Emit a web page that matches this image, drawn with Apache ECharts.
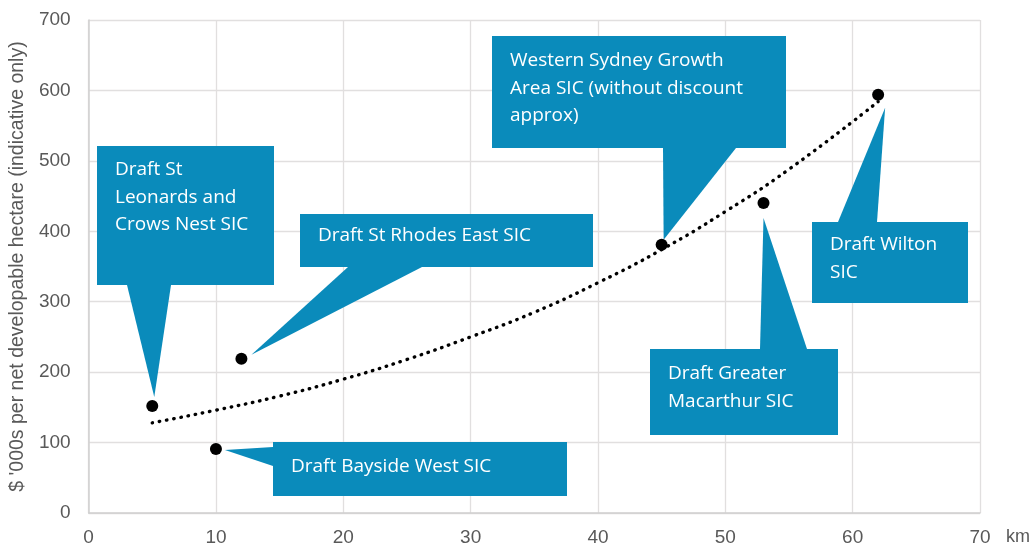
<!DOCTYPE html>
<html>
<head>
<meta charset="utf-8">
<script src="https://cdn.jsdelivr.net/npm/echarts@6/dist/echarts.min.js"></script>
<style>
html,body{margin:0;padding:0;background:#fff;}
#chart{width:1035px;height:547px;}
</style>
</head>
<body>
<div id="chart"></div>
<script>
// ---- data ----
const siteLabels = [
  'Draft St\nLeonards and\nCrows Nest SIC',
  'Draft Bayside West SIC',
  'Draft St Rhodes East SIC',
  'Western Sydney Growth\nArea SIC (without discount\napprox)',
  'Draft Greater\nMacarthur SIC',
  'Draft Wilton\nSIC'
];
const distanceKm = [5, 10, 12, 45, 53, 62];
const valueThousands = [152, 91, 219, 381, 440, 594];
const trendKm = [5, 10, 15, 20, 25, 30, 35, 40, 45, 50, 55, 62];
const trendValue = [128, 146, 166, 190, 218, 250, 285, 327, 374, 428, 488, 584];
const yAxisTitle = "$ '000s per net developable hectare (indicative only)";
const xAxisTitle = 'km';

// ---- callout layout (pixels) ----
const calloutLayout = [
  {box:[97,146,274,285],  base:[[127,285],[171,285]], tip:[2,-9],  text:[115,156]},
  {box:[273,442,567,496], base:[[273,447],[273,466]], tip:[9,1],   text:[291,453]},
  {box:[300,214,593,267], base:[[348,267],[422,267]], tip:[10,-4], text:[318,222]},
  {box:[492,36,786,148],  base:[[663,148],[736,148]], tip:[2,-5],  text:[510,47]},
  {box:[650,349,838,435], base:[[760,349],[807,349]], tip:[0,15],  text:[668,360]},
  {box:[812,222,968,303], base:[[838,222],[877,222]], tip:[7,13],  text:[830,231]}
];
const calloutColor = '#0A8BBB';

const chart = echarts.init(document.getElementById('chart'), null, {renderer:'canvas'});
const axisFont = {color:'#595959', fontSize:19, fontFamily:'Liberation Sans, Arial, sans-serif'};

chart.setOption({
  animation:false,
  backgroundColor:'#ffffff',
  grid:{left:88, right:55, top:20, bottom:33},
  xAxis:{
    type:'value', min:0, max:70, interval:10,
    name:xAxisTitle, nameLocation:'end', nameGap:26,
    nameTextStyle:Object.assign({}, axisFont, {fontSize:18, verticalAlign:'top', padding:[15,0,0,0]}),
    axisLine:{show:true, lineStyle:{color:'#d0d0d0', width:1.5}},
    axisTick:{show:false},
    axisLabel:Object.assign({margin:15}, axisFont),
    splitLine:{show:true, lineStyle:{color:'#e1dfdf', width:1.3}}
  },
  yAxis:{
    type:'value', min:0, max:700, interval:100,
    name:yAxisTitle, nameLocation:'middle', nameGap:60,
    nameTextStyle:Object.assign({}, axisFont, {fontSize:19.5}),
    axisLine:{show:true, lineStyle:{color:'#d0d0d0', width:1.5}},
    axisTick:{show:false},
    axisLabel:Object.assign({margin:18}, axisFont),
    splitLine:{show:true, lineStyle:{color:'#e1dfdf', width:1.3}}
  },
  series:[
    {
      type:'line', smooth:true, showSymbol:false, z:4,
      data:trendKm.map((x,i)=>[x, trendValue[i]]),
      lineStyle:{color:'#000', width:3.4, type:[0.5,6.8], cap:'round'}
    },
    {
      type:'scatter', z:10, symbol:'circle', symbolSize:12,
      itemStyle:{color:'#000', opacity:1},
      data:distanceKm.map((x,i)=>[x, valueThousands[i]])
    }
  ]
});

// build callouts anchored to the plotted points
const elements = [];
calloutLayout.forEach((c, i) => {
  const p = chart.convertToPixel({seriesIndex:1}, [distanceKm[i], valueThousands[i]]);
  const tip = [p[0] + c.tip[0], p[1] + c.tip[1]];
  elements.push({
    type:'rect', z:5, silent:true,
    shape:{x:c.box[0], y:c.box[1], width:c.box[2]-c.box[0], height:c.box[3]-c.box[1]},
    style:{fill:calloutColor}
  });
  elements.push({
    type:'polygon', z:5, silent:true,
    shape:{points:[c.base[0], c.base[1], tip]},
    style:{fill:calloutColor}
  });
  elements.push({
    type:'text', z:6, silent:true,
    x:c.text[0], y:c.text[1],
    style:{text:siteLabels[i], fill:'#ffffff', font:'19px "Open Sans", sans-serif',
      lineHeight:27.5, verticalAlign:'top', align:'left'}
  });
});
chart.setOption({graphic:{elements:elements}});
</script>
</body>
</html>
